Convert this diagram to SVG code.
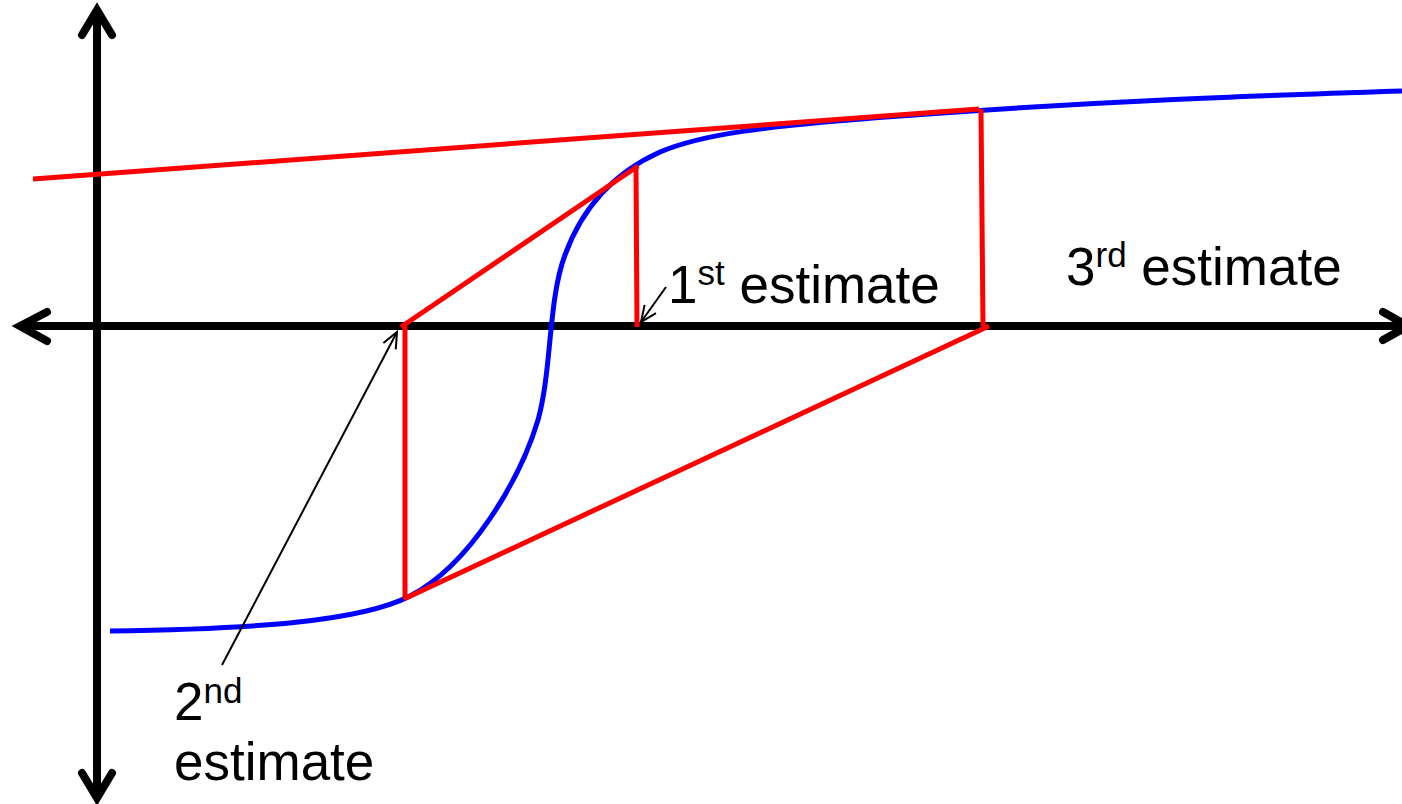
<svg xmlns="http://www.w3.org/2000/svg" width="1402" height="804" viewBox="0 0 1402 804">
<defs>
<style>
.axis{stroke:#000;stroke-width:8;fill:none;stroke-linecap:round;stroke-linejoin:miter}
.red{stroke:#ff0000;stroke-width:5;fill:none;stroke-linecap:butt}
.blue{stroke:#0000ff;stroke-width:5;fill:none}
.ptr{stroke:#000;stroke-width:2;fill:none}
.lbl{font-family:"Liberation Sans",Arial,sans-serif;font-size:53px;fill:#000}
.sup{font-size:35px}
</style>
<marker id="open" viewBox="0 0 20 20" refX="18" refY="10" markerWidth="20" markerHeight="20" markerUnits="userSpaceOnUse" orient="auto">
<path d="M2,3 L18,10 L2,17" fill="none" stroke="#000" stroke-width="2"/>
</marker>
</defs>
<g id="axes">
<line class="axis" x1="97" y1="14" x2="97" y2="795"/>
<polyline class="axis" points="82,35 97,10 112,35"/>
<polyline class="axis" points="82,773 97,798 112,773"/>
<line class="axis" x1="22" y1="326" x2="1402" y2="326"/>
<polyline class="axis" points="47,312 20,326 47,341"/>
<polyline class="axis" points="1383,312 1408,326 1383,340"/>
</g>
<g id="curve">
<path class="blue" d="M110,631 C250,629 360,622 410,596 C470,565 520,480 538,420 C552,370 548,300 565,255 C585,200 620,170 660,152 C700,135 760,126 900,116 C1100,101 1250,96 1402,91"/>
</g>
<g id="tangents">
<line class="red" x1="33" y1="179" x2="979" y2="109"/>
<line class="red" x1="981" y1="109" x2="983" y2="326"/>
<line class="red" x1="989" y1="326" x2="404" y2="599"/>
<line class="red" x1="405" y1="326" x2="405" y2="599"/>
<line class="red" x1="401" y1="327" x2="638" y2="166"/>
<line class="red" x1="636" y1="166" x2="637" y2="327"/>
</g>
<g id="connectors">
<line class="ptr" x1="666" y1="287" x2="641" y2="322" marker-end="url(#open)"/>
<line class="ptr" x1="222" y1="665" x2="397" y2="332" marker-end="url(#open)"/>
</g>
<g id="label1">
<text class="lbl" x="668" y="303">1<tspan class="sup" dy="-18">st</tspan><tspan dy="18"> estimate</tspan></text>
</g>
<g id="label3">
<text class="lbl" x="1066" y="285">3<tspan class="sup" dy="-18">rd</tspan><tspan dy="18"> estimate</tspan></text>
</g>
<g id="label2">
<text class="lbl" x="174" y="720">2<tspan class="sup" dy="-17">nd</tspan></text>
<text class="lbl" x="174" y="780">estimate</text>
</g>
</svg>
